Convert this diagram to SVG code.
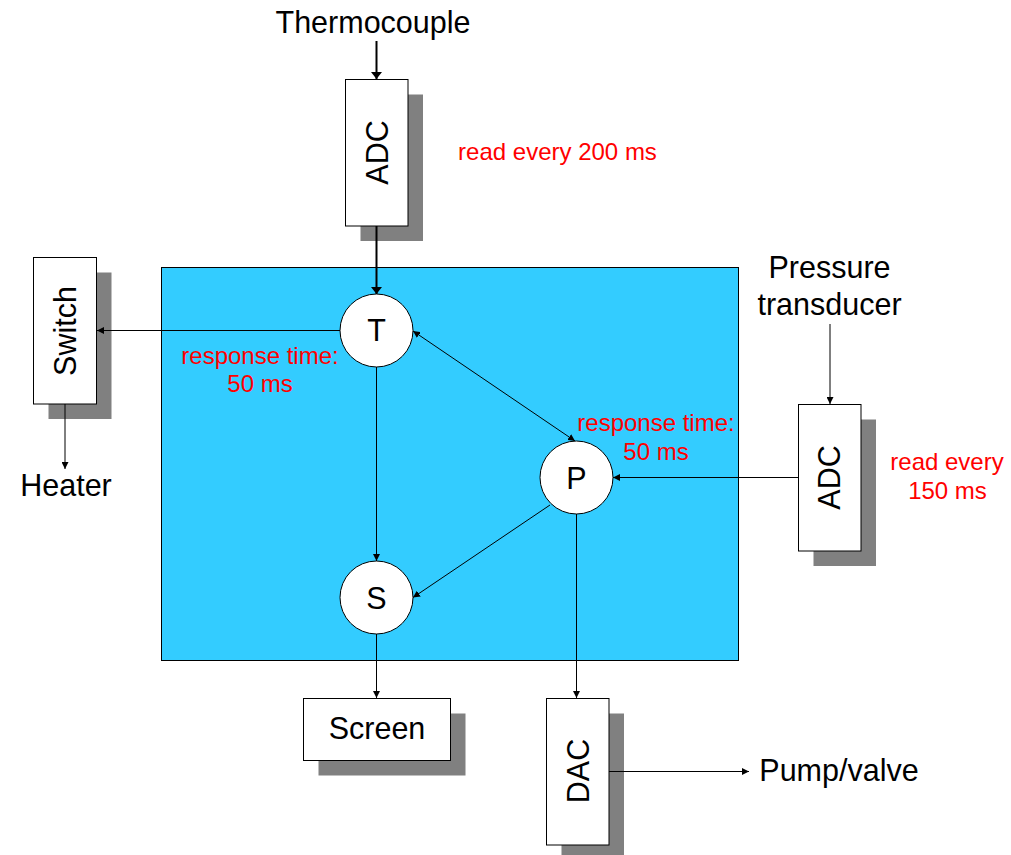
<svg xmlns="http://www.w3.org/2000/svg" width="1011" height="855" viewBox="0 0 1011 855">
<style>
.lbl{font-family:"Liberation Sans",Arial,sans-serif;font-size:30.5px;fill:#000;text-anchor:middle}
.red{font-family:"Liberation Sans",Arial,sans-serif;font-size:24px;fill:#FF0000;text-anchor:middle}
.box{fill:#fff;stroke:#000;stroke-width:1}
.shadow{fill:#808080}
.node{fill:#fff;stroke:#000;stroke-width:1}
.thin{stroke:#000;stroke-width:1;fill:none}
.thick{stroke:#000;stroke-width:2;fill:none}
</style>
<defs>
<marker id="ah" viewBox="0 0 10 10" refX="10" refY="5" markerWidth="7" markerHeight="7" markerUnits="userSpaceOnUse" orient="auto">
<path d="M0,0 L10,5 L0,10 z" fill="#000"/>
</marker>
<marker id="ahs" viewBox="0 0 10 10" refX="0" refY="5" markerWidth="7" markerHeight="7" markerUnits="userSpaceOnUse" orient="auto">
<path d="M10,0 L0,5 L10,10 z" fill="#000"/>
</marker>
<marker id="ahk" viewBox="0 0 10 10" refX="10" refY="5" markerWidth="7" markerHeight="11" markerUnits="userSpaceOnUse" orient="auto" preserveAspectRatio="none">
<path d="M0,0 L10,5 L0,10 z" fill="#000"/>
</marker>
</defs>
<rect id="controller" x="161.5" y="267.5" width="577" height="393" fill="#33CCFF" stroke="#000" stroke-width="1"/>

<g id="adc-top">
<rect class="shadow" x="360.5" y="94.5" width="62.5" height="146.5"/>
<rect class="box" x="345.5" y="79.5" width="62.5" height="146.5"/>
<text class="lbl" transform="translate(387.5,152.5) rotate(-90)">ADC</text>
</g>

<g id="switch">
<rect class="shadow" x="48.5" y="272.5" width="63" height="146.5"/>
<rect class="box" x="33.5" y="257.5" width="63" height="146.5"/>
<text class="lbl" transform="translate(75.5,331) rotate(-90)">Switch</text>
</g>

<g id="adc-right">
<rect class="shadow" x="813.5" y="419.5" width="62.5" height="146.5"/>
<rect class="box" x="798.5" y="404.5" width="62.5" height="146.5"/>
<text class="lbl" transform="translate(840,477.5) rotate(-90)">ADC</text>
</g>

<g id="screen">
<rect class="shadow" x="318.5" y="713.5" width="147" height="62"/>
<rect class="box" x="303.5" y="698.5" width="147" height="62"/>
<text class="lbl" x="377" y="739">Screen</text>
</g>

<g id="dac">
<rect class="shadow" x="561.5" y="713.5" width="62.5" height="146.5"/>
<rect class="box" x="546.5" y="698.5" width="62.5" height="146.5"/>
<text class="lbl" transform="translate(588.5,771) rotate(-90)">DAC</text>
</g>

<g id="connectors">
<line class="thick" x1="376.5" y1="41" x2="376.5" y2="79" marker-end="url(#ahk)"/>
<line class="thick" x1="376.5" y1="226" x2="376.5" y2="294" marker-end="url(#ahk)"/>
<line class="thin" x1="340" y1="330.5" x2="97" y2="330.5" marker-end="url(#ah)"/>
<line class="thin" x1="65" y1="404" x2="65" y2="469" marker-end="url(#ah)"/>
<line class="thin" x1="376.5" y1="367" x2="376.5" y2="561" marker-end="url(#ah)"/>
<line class="thin" x1="413" y1="331" x2="575" y2="441" marker-start="url(#ahs)" marker-end="url(#ah)"/>
<line class="thin" x1="830" y1="324" x2="830" y2="404" marker-end="url(#ah)"/>
<line class="thin" x1="798" y1="477.5" x2="613" y2="477.5" marker-end="url(#ah)"/>
<line class="thin" x1="550" y1="505" x2="413" y2="597.5" marker-end="url(#ah)"/>
<line class="thin" x1="376.5" y1="634" x2="376.5" y2="698" marker-end="url(#ah)"/>
<line class="thin" x1="576.5" y1="514" x2="576.5" y2="698" marker-end="url(#ah)"/>
<line class="thin" x1="609" y1="771.5" x2="749" y2="771.5" marker-end="url(#ah)"/>
</g>

<g id="node-T">
<circle class="node" cx="376.5" cy="330.5" r="36.5"/>
<text class="lbl" x="376.5" y="341">T</text>
</g>
<g id="node-P">
<circle class="node" cx="576.5" cy="477.5" r="36.5"/>
<text class="lbl" x="576.5" y="488.5">P</text>
</g>
<g id="node-S">
<circle class="node" cx="376.5" cy="597.5" r="36.5"/>
<text class="lbl" x="376.5" y="608.5">S</text>
</g>

<g id="thermocouple"><text class="lbl" x="373" y="33">Thermocouple</text></g>
<g id="pressure-transducer"><text class="lbl" x="829.5" y="278">Pressure</text><text class="lbl" x="829.5" y="315">transducer</text></g>
<g id="heater"><text class="lbl" x="66" y="496">Heater</text></g>
<g id="pump-valve"><text class="lbl" x="839" y="781">Pump/valve</text></g>

<g id="notes">
<text class="red" x="557.5" y="159.5">read every 200 ms</text>
<text class="red" x="260" y="364">response time:</text>
<text class="red" x="260" y="392">50 ms</text>
<text class="red" x="656" y="431">response time:</text>
<text class="red" x="656" y="459.5">50 ms</text>
<text class="red" x="947" y="470">read every</text>
<text class="red" x="947.5" y="498.5">150 ms</text>
</g>
</svg>
